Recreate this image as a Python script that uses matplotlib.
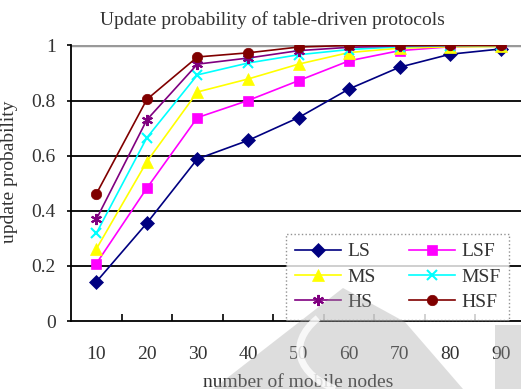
import matplotlib
matplotlib.use("Agg")
import matplotlib.pyplot as plt
from matplotlib.patches import Polygon, Rectangle, PathPatch
from matplotlib.path import Path

# Data
nodes = [10, 20, 30, 40, 50, 60, 70, 80, 90]
ls = [0.142, 0.355, 0.588, 0.655, 0.738, 0.842, 0.921, 0.968, 0.987]
lsf = [0.208, 0.482, 0.738, 0.800, 0.872, 0.944, 0.981, 0.995, 0.999]
ms = [0.261, 0.578, 0.831, 0.878, 0.932, 0.974, 0.990, 0.995, 0.996]
msf = [0.318, 0.665, 0.893, 0.936, 0.966, 0.985, 0.995, 0.999, 1.0]
hs = [0.369, 0.730, 0.932, 0.954, 0.981, 0.993, 0.998, 1.0, 1.0]
hsf = [0.461, 0.804, 0.958, 0.973, 0.994, 1.0, 1.0, 1.0, 1.0]

series = [
    ("LS", ls, "#000080", "D", 7),
    ("LSF", lsf, "#ff00ff", "s", 7),
    ("MS", ms, "#ffff00", "^", 8),
    ("MSF", msf, "#00ffff", "x", 7),
    ("HS", hs, "#800080", (6, 2, 0), 8),
    ("HSF", hsf, "#800000", "o", 7.5),
]

plt.rcParams['font.family'] = ['Liberation Serif', 'DejaVu Serif']
text_color = '#333333'
W, H = 521, 389

fig = plt.figure(figsize=(W / 100, H / 100), dpi=100)
ax = fig.add_axes([0.1363, 0.1748, 0.8733, 0.7085])

pos = list(range(1, len(nodes) + 1))
lines = {}
for name, vals, color, marker, ms_ in series:
    ln, = ax.plot(pos, vals, color=color, marker=marker, markersize=ms_,
                  lw=1.2, label=name, zorder=3,
                  markeredgewidth=1.5 if marker in ("x", (6, 2, 0)) else 0.5)
    lines[name] = ln

ax.set_xlim(0.5, len(nodes) + 0.5)
ax.set_ylim(0, 1)
ax.set_yticks([0, 0.2, 0.4, 0.6, 0.8, 1.0])
ax.set_yticklabels(["0", "0.2", "0.4", "0.6", "0.8", "1"])
ax.set_xticks(pos)
ax.set_xticklabels([str(n) for n in nodes])
ax.set_xticks([p + 0.5 for p in pos[:-1]], minor=True)

ax.tick_params(axis='x', which='major', length=0, pad=18,
               labelsize=14, labelcolor=text_color)
ax.tick_params(axis='x', which='minor', direction='in', length=5, width=1.2)
ax.tick_params(axis='y', direction='out', length=3, width=1.2, pad=8,
               labelsize=14, labelcolor=text_color)

for y in [0.2, 0.4, 0.6, 0.8]:
    ax.axhline(y, color='black', lw=1.3, zorder=1)
ax.axhline(1.0, color='#999999', lw=2.5, zorder=1)

for s in ['top', 'right']:
    ax.spines[s].set_visible(False)
ax.spines['left'].set_linewidth(1.3)
ax.spines['bottom'].set_linewidth(1.3)

ax.set_title("Update probability of table-driven protocols", fontsize=14,
             color=text_color, pad=15, x=0.442)
ax.set_xlabel("number of mobile nodes", fontsize=14, color=text_color,
              labelpad=8)
ax.set_ylabel("update probability", fontsize=14, color=text_color)
ax.yaxis.set_label_coords(-0.116, 0.54)

# legend rows: LS LSF / MS MSF / HS HSF
order = ["LS", "MS", "HS", "LSF", "MSF", "HSF"]
leg = ax.legend([lines[n] for n in order], order, ncol=2, loc='center',
                bbox_to_anchor=(397.5 / W, 1 - 277 / H),
                bbox_transform=fig.transFigure,
                fontsize=14, frameon=True, fancybox=False,
                borderpad=0.45, handlelength=2.4, columnspacing=1.7,
                labelspacing=0.4, handletextpad=0.3)
leg.get_frame().set_edgecolor('#777777')
leg.get_frame().set_linestyle(':')
leg.get_frame().set_linewidth(1.0)
for t in leg.get_texts():
    t.set_color(text_color)

# faint grey watermark shapes
tri = Polygon([(343 / W, 1 - 288 / H), (405 / W, 1 - 322 / H),
               (463 / W, 0), (213 / W, 0)],
              closed=True, transform=fig.transFigure, facecolor='#a0a0a0',
              edgecolor='none', alpha=0.35, zorder=10)
bar = Rectangle((495 / W, 0), 26 / W, 1 - 325 / H,
                transform=fig.transFigure, facecolor='#a0a0a0',
                edgecolor='none', alpha=0.35, zorder=10)
swoosh = PathPatch(Path([(318 / W, 1 - 318 / H), (285 / W, 1 - 345 / H),
                         (300 / W, 1 - 375 / H), (335 / W, 0)],
                        [Path.MOVETO, Path.CURVE4, Path.CURVE4, Path.CURVE4]),
                   transform=fig.transFigure, facecolor='none',
                   edgecolor='white', lw=5, alpha=0.8, zorder=11)
fig.patches.extend([tri, bar, swoosh])

fig.savefig("out.png", dpi=100)
